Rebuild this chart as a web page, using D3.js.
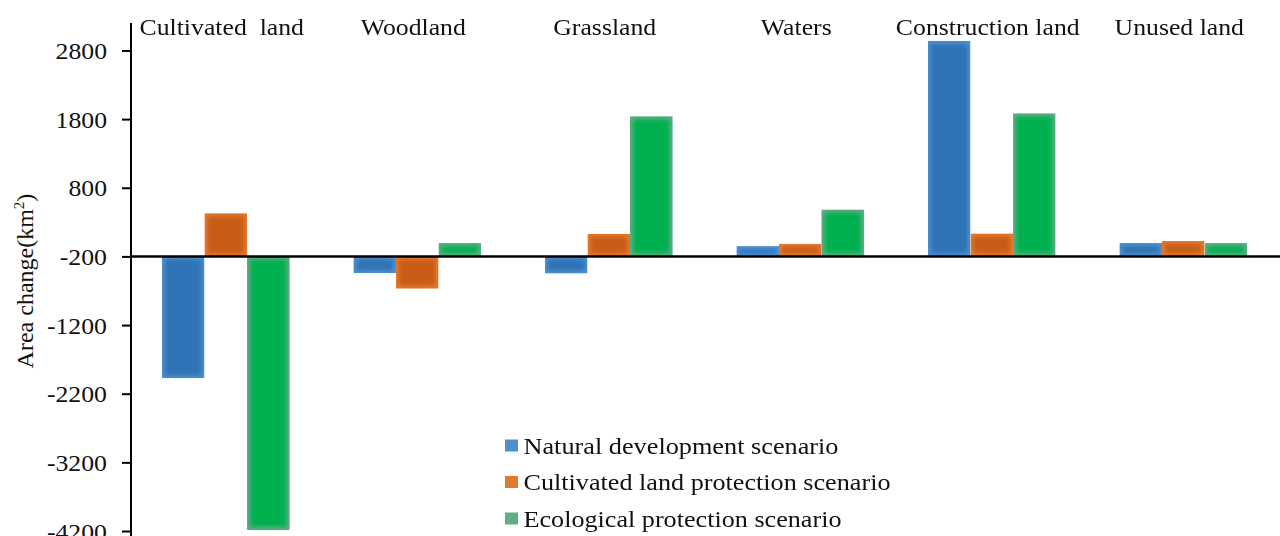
<!DOCTYPE html>
<html>
<head>
<meta charset="utf-8">
<script src="https://cdn.jsdelivr.net/npm/d3@7"></script>
<style>
  html, body { margin: 0; padding: 0; background: #fff; }
  svg { display: block; font-family: "Liberation Serif", "Times New Roman", serif; }
  text { white-space: pre; fill: #111; }
</style>
</head>
<body>
<svg id="chart" width="1280" height="536"></svg>
<script>
// Land-use categories and area change (km²) under three scenarios
const categories = ["Cultivated  land", "Woodland", "Grassland", "Waters", "Construction land", "Unused land"];
const seriesNames = ["Natural development scenario", "Cultivated land protection scenario", "Ecological protection scenario"];
const naturalDev     = [-1975, -445, -450, -50, 2940, -5];
const cultivatedProt = [430, -670, 130, -15, 135, 25];
const ecologicalProt = [-4185, -5, 1840, 480, 1885, -5];
const yTicks = [2800, 1800, 800, -200, -1200, -2200, -3200, -4200];
const yTitle = "Area change(km";

const seriesValues = [naturalDev, cultivatedProt, ecologicalProt];
// edge tone and core tone for each series (soft-edged bars)
const palette = [
  { edge: "#4f8fd0", core: "#2f73b5" },
  { edge: "#e47a30", core: "#c85b14" },
  { edge: "#62ad86", core: "#00b050" }
];

const svg = d3.select("#chart");
const W = 1280, H = 536;
const axisX = 131, baseValue = -200;
const stretch = 1.12; // horizontal stretch applied to the serif text
const fs = 23;

const x = d3.scaleBand().domain(categories).range([130, 1279]).paddingInner(0).paddingOuter(0);
const bw = x.bandwidth();
const barW = bw / 4.5;
const xs = d3.scaleBand().domain(seriesNames).range([barW * 0.75, bw - barW * 0.75]).padding(0);
const y = d3.scaleLinear().domain([-4200, 3200]).range([531, 23]);

const defs = svg.append("defs");
defs.append("filter").attr("id", "soft").attr("x", "-20%").attr("y", "-20%").attr("width", "140%").attr("height", "140%")
  .append("feGaussianBlur").attr("stdDeviation", 2.2);
defs.append("filter").attr("id", "haze").attr("x", "-5%").attr("y", "-5%").attr("width", "110%").attr("height", "110%")
  .append("feGaussianBlur").attr("stdDeviation", 0.45);

// bars
const rows = [];
categories.forEach((c, i) => {
  seriesNames.forEach((s, j) => rows.push({ cat: c, series: s, j, value: seriesValues[j][i] }));
});

const barsG = svg.append("g").attr("filter", "url(#haze)");
rows.forEach((d, k) => {
  const x0 = x(d.cat) + xs(d.series);
  const yA = y(Math.max(d.value, baseValue));
  const yB = y(Math.min(d.value, baseValue));
  const h = yB - yA;
  const clipId = "clip" + k;
  defs.append("clipPath").attr("id", clipId)
    .append("rect").attr("x", x0).attr("y", yA).attr("width", xs.bandwidth()).attr("height", h);
  const g = barsG.append("g").attr("clip-path", `url(#${clipId})`);
  g.append("rect").attr("x", x0).attr("y", yA).attr("width", xs.bandwidth()).attr("height", h)
    .attr("fill", palette[d.j].edge);
  const inset = 3;
  if (h > 2 * inset) {
    g.append("rect").attr("x", x0 + inset).attr("y", yA + inset)
      .attr("width", xs.bandwidth() - 2 * inset).attr("height", h - 2 * inset)
      .attr("fill", palette[d.j].core).attr("filter", "url(#soft)");
  } else {
    g.append("rect").attr("x", x0 + inset).attr("y", yA + h / 2 - 1)
      .attr("width", xs.bandwidth() - 2 * inset).attr("height", 2)
      .attr("fill", palette[d.j].core).attr("opacity", 0.35).attr("filter", "url(#soft)");
  }
});

// horizontal base line
svg.append("line").attr("x1", axisX).attr("x2", W).attr("y1", y(baseValue)).attr("y2", y(baseValue))
  .attr("stroke", "#000").attr("stroke-width", 2.5);

// vertical axis
const yAxis = d3.axisLeft(y).tickValues(yTicks).tickSize(9).tickSizeOuter(0).tickFormat(d => String(d));
const ax = svg.append("g").attr("transform", `translate(${axisX},0)`).call(yAxis);
ax.select(".domain").attr("stroke", "#000").attr("stroke-width", 2).attr("d", `M0,${y(3200)}V${H}`);
ax.selectAll(".tick line").attr("stroke", "#000").attr("stroke-width", 2);
ax.selectAll(".tick text").remove();
ax.selectAll(".tick").each(function (d) {
  d3.select(this).append("text")
    .attr("transform", `translate(-24,0) scale(${stretch},1)`)
    .attr("text-anchor", "end").attr("dy", "0.35em")
    .attr("font-size", fs).attr("fill", "#111")
    .style("font-family", '"Liberation Serif", serif')
    .text(String(d));
});

// category labels along the top
svg.append("g").selectAll("text").data(categories).join("text")
  .attr("transform", d => `translate(${x(d) + bw / 2 - 4},35) scale(${stretch},1)`)
  .attr("text-anchor", "middle").attr("font-size", fs)
  .text(d => d);

// y-axis title
const t = svg.append("text")
  .attr("transform", "translate(33,281) rotate(-90)")
  .attr("text-anchor", "middle").attr("font-size", 24);
t.append("tspan").text(yTitle);
t.append("tspan").attr("font-size", 15).attr("dy", -9).text("2");
t.append("tspan").attr("font-size", 24).attr("dy", 9).text(")");

// legend
const legendWidths = [315, 367, 318];
const lg = svg.append("g").attr("transform", "translate(505,0)");
seriesNames.forEach((s, j) => {
  const cy = 446 + j * 36.5;
  lg.append("rect").attr("x", 0).attr("y", cy - 6.5).attr("width", 13).attr("height", 12)
    .attr("fill", palette[j].edge);
  lg.append("text").attr("x", 18.5).attr("y", cy + 7.5).attr("font-size", fs)
    .attr("textLength", legendWidths[j]).attr("lengthAdjust", "spacingAndGlyphs")
    .text(s);
});
</script>
</body>
</html>
